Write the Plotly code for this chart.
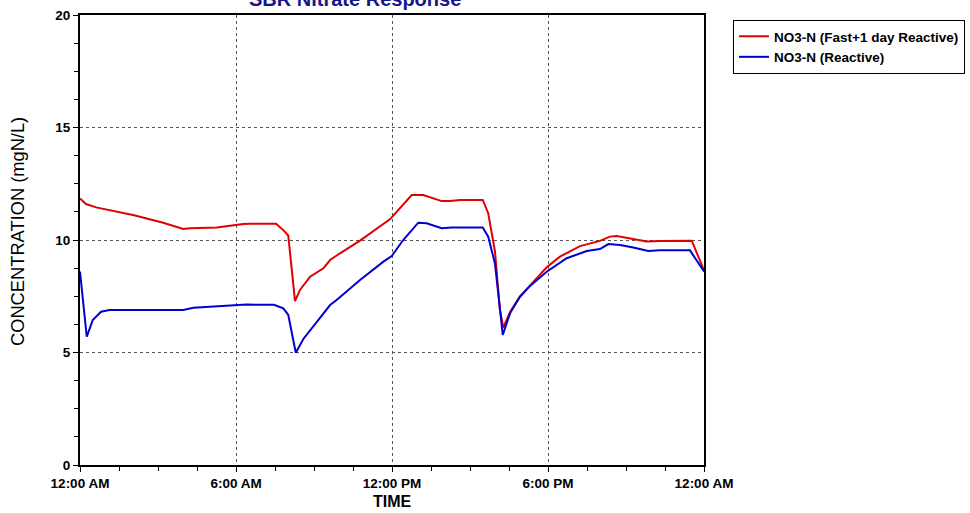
import pandas as pd
import plotly.graph_objects as go

# Time of day (hours after midnight) and nitrate concentrations (mgN/L)
fast_hours = [0.0, 0.23, 0.62, 1.13, 2.08, 3.2, 3.97, 4.23, 5.26, 6.28, 6.54, 7.54,
              7.82, 8.01, 8.27, 8.46, 8.72, 8.85, 9.36, 9.62, 10.0, 10.77, 11.92,
              12.31, 12.76, 13.2, 13.91, 14.23, 14.62, 15.49, 15.7, 15.96, 16.15,
              16.28, 16.54, 16.92, 17.57, 17.95, 18.46, 19.23, 20.0, 20.38, 20.64,
              21.15, 21.8, 22.31, 23.53, 24.0]
fast_no3 = [11.85, 11.6, 11.45, 11.33, 11.1, 10.77, 10.49, 10.52, 10.56, 10.71, 10.72,
            10.72, 10.44, 10.2, 7.28, 7.78, 8.15, 8.37, 8.74, 9.11, 9.41, 9.97, 10.92,
            11.41, 12.0, 12.0, 11.73, 11.73, 11.78, 11.78, 11.19, 9.5, 6.9, 6.1, 6.8,
            7.48, 8.3, 8.79, 9.26, 9.73, 9.96, 10.15, 10.18, 10.07, 9.93, 9.96, 9.97,
            8.65]

react_hours = [0.0, 0.26, 0.49, 0.81, 1.13, 3.97, 4.36, 5.13, 6.03, 6.41, 7.46, 7.82,
               8.01, 8.3, 8.59, 8.97, 9.62, 9.87, 10.77, 11.67, 11.99, 12.43, 13.01,
               13.33, 13.91, 14.3, 15.49, 15.7, 15.96, 16.26, 16.54, 16.92, 17.31,
               17.95, 18.72, 19.49, 20.0, 20.32, 20.77, 21.28, 21.86, 22.31, 23.46,
               24.0]
react_no3 = [8.6, 5.7, 6.44, 6.81, 6.89, 6.89, 6.99, 7.04, 7.1, 7.13, 7.12, 6.96, 6.67,
             4.99, 5.6, 6.15, 7.11, 7.33, 8.22, 9.04, 9.29, 10.0, 10.77, 10.74, 10.52,
             10.56, 10.56, 10.15, 8.96, 5.78, 6.74, 7.48, 7.96, 8.59, 9.19, 9.51, 9.6,
             9.82, 9.78, 9.67, 9.51, 9.54, 9.54, 8.6]

series_names = ["NO3-N (Fast+1 day Reactive)", "NO3-N (Reactive)"]
y_ticks = [0, 5, 10, 15, 20]

day0 = pd.Timestamp("2000-01-01")


def to_time(hours):
    return [day0 + pd.Timedelta(hours=h) for h in hours]


FONT = "Liberation Sans, Arial, sans-serif"
W, H = 970, 513

fig = go.Figure()
fig.add_trace(go.Scatter(x=to_time(fast_hours), y=fast_no3, mode="lines",
                         name=series_names[0],
                         line=dict(color="#e00000", width=2)))
fig.add_trace(go.Scatter(x=to_time(react_hours), y=react_no3, mode="lines",
                         name=series_names[1],
                         line=dict(color="#0000d0", width=2)))

axis_common = dict(
    showline=True, linecolor="black", linewidth=2, mirror=True,
    ticks="outside", ticklen=5, tickwidth=1, tickcolor="black",
    showgrid=True, gridcolor="#555555", gridwidth=1, griddash="3px,3px",
    zeroline=False,
    tickfont=dict(family=FONT, size=13.5, color="black", weight="bold"),
)

fig.update_xaxes(
    **axis_common,
    type="date",
    range=[day0, day0 + pd.Timedelta(hours=24)],
    tick0=day0,
    dtick=6 * 3600 * 1000,
    tickformat="%-I:%M %p",
    minor=dict(dtick=1.5 * 3600 * 1000, ticks="outside", ticklen=4,
               tickcolor="black", showgrid=False),
    automargin=False,
)
fig.update_yaxes(
    **axis_common,
    range=[0, 20],
    tickvals=y_ticks,
    minor=dict(dtick=1.25, ticks="outside", ticklen=4,
               tickcolor="black", showgrid=False),
    automargin=False,
)

fig.update_layout(
    width=W, height=H,
    margin=dict(l=80, r=266, t=15, b=48, autoexpand=False),
    paper_bgcolor="white", plot_bgcolor="white",
    font=dict(family=FONT, color="black"),
    showlegend=True,
    legend=dict(
        xref="container", yref="container",
        x=733 / W, y=1 - 20 / H, xanchor="left", yanchor="top",
        bordercolor="black", borderwidth=1, bgcolor="white",
        font=dict(family=FONT, size=13.5, color="black", weight="bold"),
        tracegroupgap=0,
    ),
    annotations=[
        dict(text="SBR Nitrate Response", xref="paper", yref="paper",
             x=(355 - 80) / 624, y=1, yshift=16, xanchor="center", yanchor="middle",
             showarrow=False,
             font=dict(family=FONT, size=20, color="#16168a", weight="bold")),
        dict(text="TIME", xref="paper", yref="paper",
             x=0.5, y=0, yshift=-36, xanchor="center", yanchor="middle",
             showarrow=False,
             font=dict(family=FONT, size=16, color="black", weight="bold")),
        dict(text="CONCENTRATION (mgN/L)", xref="paper", yref="paper",
             x=-63 / 624, y=(465 - 232) / 450, xanchor="center", yanchor="middle",
             textangle=-90, showarrow=False,
             font=dict(family=FONT, size=18.3, color="black")),
    ],
)

fig.write_html("out.html")
